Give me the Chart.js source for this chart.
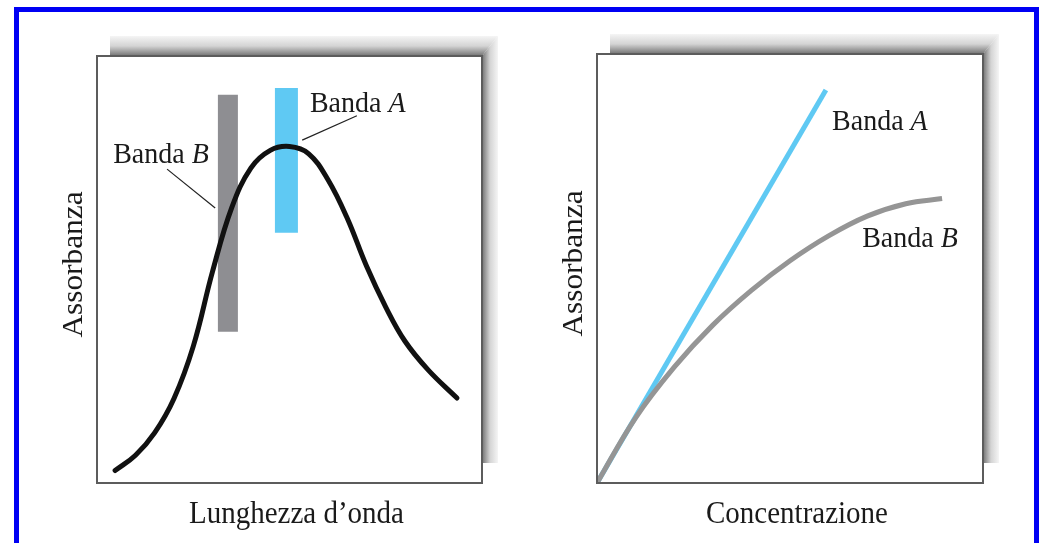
<!DOCTYPE html>
<html><head><meta charset="utf-8">
<script src="https://cdn.jsdelivr.net/npm/chart.js@4.4.1/dist/chart.umd.min.js"></script>
<style>
html,body{margin:0;padding:0;background:#fff;width:1041px;height:543px;overflow:hidden;}
#frame{position:absolute;left:14px;top:7px;width:1015px;height:600px;border:5px solid #0000f4;}
#cL{position:absolute;left:0;top:0;}
#cR{position:absolute;left:520px;top:0;}
</style></head>
<body>
<div id="frame"></div>
<canvas id="cL" width="520" height="543"></canvas>
<canvas id="cR" width="521" height="543"></canvas>
<script>
// ---- Left panel: absorbance spectrum (arbitrary units 0-100) ----
const spectrumX = [4.7, 10, 15, 20, 25, 30, 35, 40, 45, 50, 55, 60, 65, 70, 75, 80, 86, 93.5];
const spectrumY = [2.9, 6.5, 11.8, 19.8, 32.0, 49.5, 64.5, 73.8, 77.9, 78.8, 77.1, 71.0, 62.0, 50.8, 41.2, 33.2, 26.5, 19.9];
// bands: centre wavelength and vertical extent
const bandB_X = 34.0, bandB_Y = [35.4, 90.9];
const bandA_X = 49.2, bandA_Y = [58.6, 92.5];
// leader lines (label -> band)
const leaderB_X = [18.2, 30.7], leaderB_Y = [73.5, 64.4];
const leaderA_X = [53.3, 67.5], leaderA_Y = [80.3, 86.0];
const labelLeftB = {x: 4.2, y: 74.9};
const labelLeftA = {x: 55.3, y: 86.9};

// ---- Right panel: absorbance vs concentration ----
const concA = [0, 59.3];
const absA  = [0, 91.6];
const concB = [0, 10, 20, 30, 40, 50, 60, 70, 80, 89.4];
const absB  = [0, 15.2, 27.0, 36.8, 44.9, 51.8, 57.6, 62.2, 65.1, 66.3];
const labelRightA = {x: 60.9, y: 82.3};
const labelRightB = {x: 68.7, y: 55.0};

const xTitleL = 'Lunghezza d\u2019onda';
const xTitleR = 'Concentrazione';
const yTitle = 'Assorbanza';

const CYAN = '#5fc9f3', GREYBAR = '#8e8e92', GREYLINE = '#959595', BLACK = '#111111';
const FONT = '"Liberation Serif", "Times New Roman", serif';

function pts(xs, ys){ return xs.map((x,i)=>({x:x, y:ys[i]})); }

function drawParts(ctx, x, y, parts, size){
  ctx.save();
  ctx.translate(x, y);
  ctx.scale(1, 1.08);
  ctx.fillStyle = '#1a1a1a';
  ctx.textBaseline = 'alphabetic';
  ctx.textAlign = 'left';
  let cx = 0;
  for (const [t, it] of parts){
    ctx.font = (it ? 'italic ' : '') + size + 'px ' + FONT;
    ctx.fillText(t, cx, 0);
    cx += ctx.measureText(t).width;
  }
  ctx.restore();
}

const panelPlugin = {
  id: 'panel',
  beforeDatasetsDraw(chart){
    const ctx = chart.ctx, a = chart.chartArea;
    const L = a.left, T = a.top, R = a.right, B = a.bottom;
    const dx = 13, dy = 20, sw = 16;
    ctx.save();
    let g = ctx.createLinearGradient(0, T - dy, 0, T);
    g.addColorStop(0, '#f5f5f5'); g.addColorStop(0.5, '#d4d4d4'); g.addColorStop(1, '#727272');
    ctx.fillStyle = g;
    ctx.beginPath();
    ctx.moveTo(L + dx, T - dy); ctx.lineTo(R + sw, T - dy); ctx.lineTo(R, T); ctx.lineTo(L + dx, T); ctx.closePath();
    ctx.fill();
    g = ctx.createLinearGradient(R, 0, R + sw, 0);
    g.addColorStop(0, '#727272'); g.addColorStop(0.5, '#d4d4d4'); g.addColorStop(1, '#f5f5f5');
    ctx.fillStyle = g;
    ctx.beginPath();
    ctx.moveTo(R, T); ctx.lineTo(R + sw, T - dy); ctx.lineTo(R + sw, B - dy); ctx.lineTo(R, B - dy); ctx.closePath();
    ctx.fill();
    ctx.fillStyle = '#ffffff';
    ctx.fillRect(L, T, R - L, B - T);
    ctx.restore();
  },
  afterDatasetsDraw(chart){
    const ctx = chart.ctx, a = chart.chartArea;
    ctx.save();
    ctx.strokeStyle = '#5c5c5c';
    ctx.lineWidth = 2;
    ctx.strokeRect(a.left, a.top, a.right - a.left, a.bottom - a.top);
    ctx.restore();
  },
  afterDraw(chart, args, opts){
    const ctx = chart.ctx, a = chart.chartArea;
    const xs = chart.scales.x, ys = chart.scales.y;
    for (const lb of opts.labels){
      drawParts(ctx, xs.getPixelForValue(lb.x), ys.getPixelForValue(lb.y), [['Banda ', false], [lb.letter, true]], 28);
    }
    ctx.save();
    ctx.fillStyle = '#1a1a1a';
    ctx.font = '29px ' + FONT;
    ctx.textAlign = 'center';
    ctx.textBaseline = 'alphabetic';
    ctx.save();
    ctx.translate((a.left + a.right)/2 + 7, a.bottom + 40);
    ctx.scale(1, 1.08);
    ctx.fillText(opts.xTitle, 0, 0);
    ctx.restore();
    ctx.save();
    ctx.translate(a.left - 15, (a.top + a.bottom)/2 - 5);
    ctx.rotate(-Math.PI/2);
    ctx.scale(1.08, 1);
    ctx.fillText(opts.yTitle, 0, 0);
    ctx.restore();
    ctx.restore();
  }
};

function baseOptions(pad, labels, xTitle){
  return {
    responsive: false,
    animation: false,
    layout: {padding: pad},
    scales: {
      x: {type: 'linear', min: 0, max: 100, display: false},
      y: {type: 'linear', min: 0, max: 100, display: false}
    },
    elements: {point: {radius: 0, hoverRadius: 0}},
    plugins: {
      legend: {display: false},
      tooltip: {enabled: false},
      panel: {labels: labels, xTitle: xTitle, yTitle: yTitle}
    }
  };
}

new Chart(document.getElementById('cL'), {
  type: 'line',
  data: {datasets: [
    {label: 'Spettro', data: pts(spectrumX, spectrumY), borderColor: BLACK, borderWidth: 5, tension: 0.4, borderCapStyle: 'round', borderJoinStyle: 'round', order: 0},
    {label: 'Banda B', data: pts([bandB_X, bandB_X], bandB_Y), borderColor: GREYBAR, borderWidth: 20, borderCapStyle: 'butt', order: 2},
    {label: 'Banda A', data: pts([bandA_X, bandA_X], bandA_Y), borderColor: CYAN, borderWidth: 23, borderCapStyle: 'butt', order: 2},
    {label: 'leaderB', data: pts(leaderB_X, leaderB_Y), borderColor: '#222', borderWidth: 1.2, order: 1},
    {label: 'leaderA', data: pts(leaderA_X, leaderA_Y), borderColor: '#222', borderWidth: 1.2, order: 1}
  ]},
  options: baseOptions({left: 97, top: 56, right: 38, bottom: 60},
    [{x: labelLeftB.x, y: labelLeftB.y, letter: 'B'}, {x: labelLeftA.x, y: labelLeftA.y, letter: 'A'}], xTitleL),
  plugins: [panelPlugin]
});

new Chart(document.getElementById('cR'), {
  type: 'line',
  data: {datasets: [
    {label: 'Banda B', data: pts(concB, absB), borderColor: GREYLINE, borderWidth: 5, tension: 0.4, borderJoinStyle: 'round', order: 0},
    {label: 'Banda A', data: pts(concA, absA), borderColor: CYAN, borderWidth: 5, order: 1}
  ]},
  options: baseOptions({left: 77, top: 54, right: 58, bottom: 60},
    [{x: labelRightA.x, y: labelRightA.y, letter: 'A'}, {x: labelRightB.x, y: labelRightB.y, letter: 'B'}], xTitleR),
  plugins: [panelPlugin]
});
</script>
</body></html>
